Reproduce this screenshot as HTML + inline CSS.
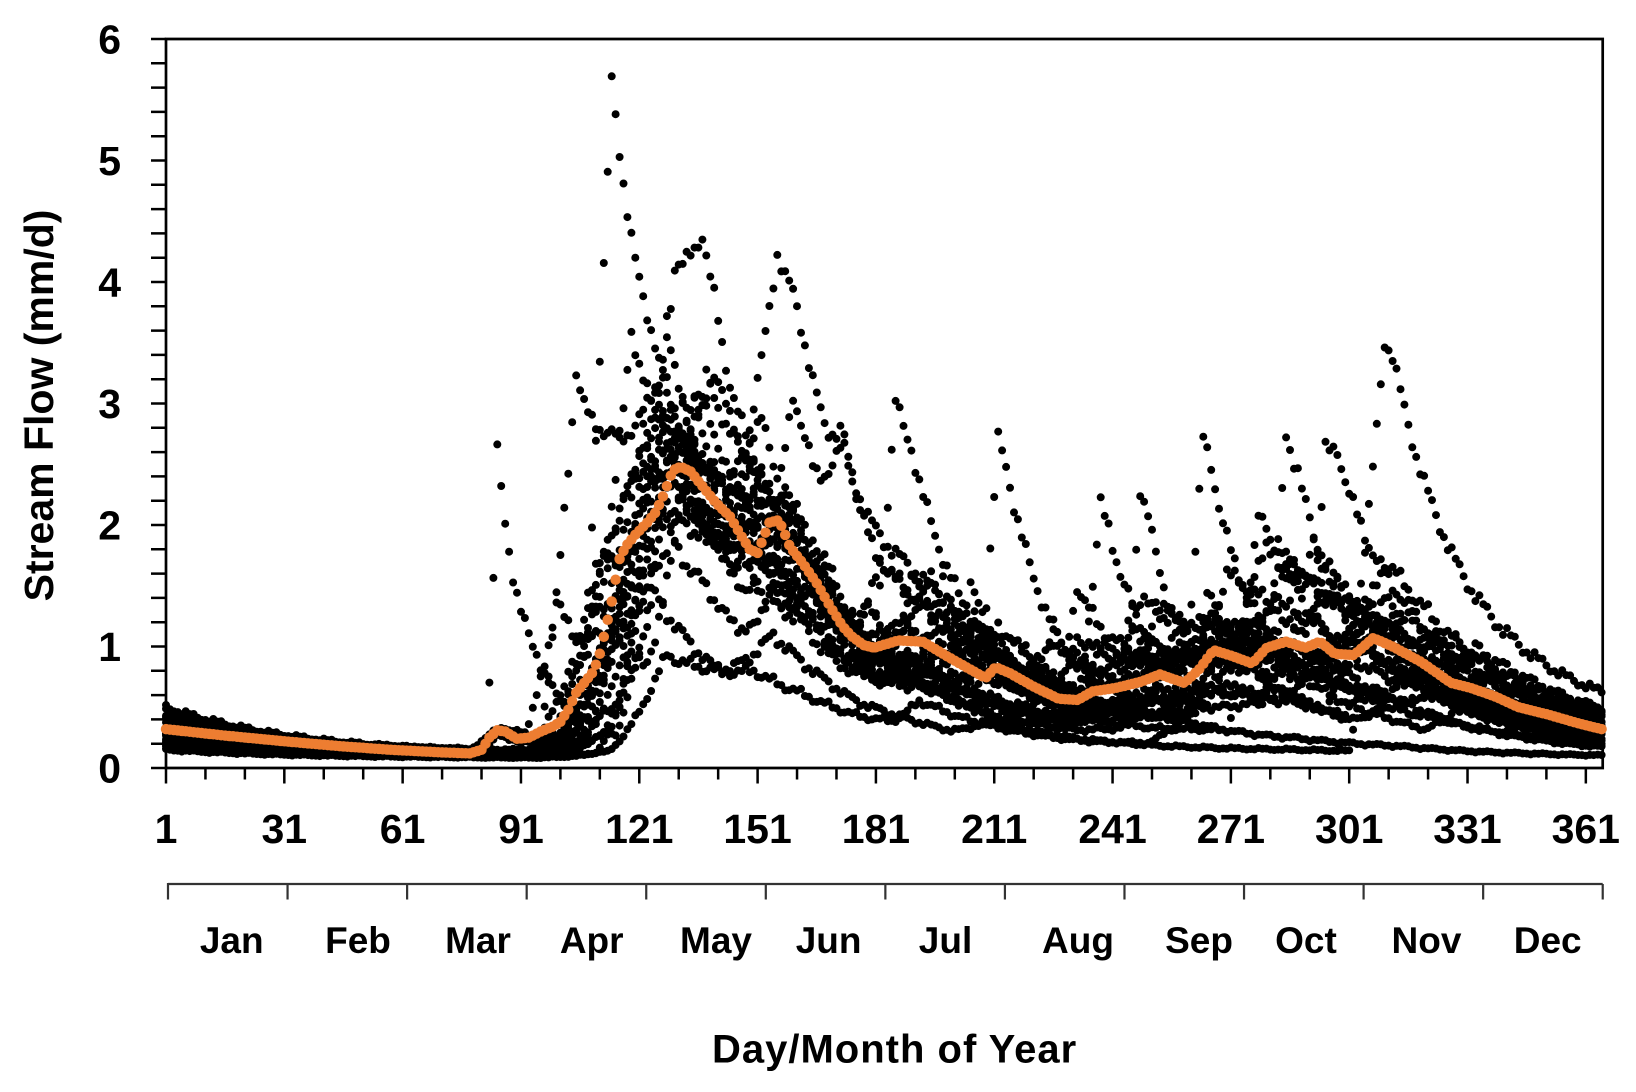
<!DOCTYPE html>
<html><head><meta charset="utf-8">
<style>
html,body{margin:0;padding:0;background:#fff;}
svg{display:block;}
text{font-family:"Liberation Sans",Arial,sans-serif;font-weight:bold;fill:#000;}
</style></head><body>
<svg id="s" width="1636" height="1092" viewBox="0 0 1636 1092" xmlns="http://www.w3.org/2000/svg">
<rect width="1636" height="1092" fill="#fff"/>
<path d="M166 39H1602.7V768H166Z" fill="none" stroke="#000" stroke-width="2.7"/>
<path stroke="#000" stroke-width="2.5" fill="none" d="M151 768H166M151 743.7H166M151 719.4H166M151 695.1H166M151 670.8H166M151 646.5H166M151 622.2H166M151 597.9H166M151 573.6H166M151 549.3H166M151 525H166M151 500.7H166M151 476.4H166M151 452.1H166M151 427.8H166M151 403.5H166M151 379.2H166M151 354.9H166M151 330.6H166M151 306.3H166M151 282H166M151 257.7H166M151 233.4H166M151 209.1H166M151 184.8H166M151 160.5H166M151 136.2H166M151 111.9H166M151 87.6H166M151 63.3H166M151 39H166"/>
<path stroke="#000" stroke-width="2.5" fill="none" d="M166 768V783.5M205.44 768V779.5M244.88 768V779.5M284.32 768V783.5M323.76 768V779.5M363.2 768V779.5M402.64 768V783.5M442.08 768V779.5M481.52 768V779.5M520.96 768V783.5M560.4 768V779.5M599.84 768V779.5M639.28 768V783.5M678.72 768V779.5M718.16 768V779.5M757.6 768V783.5M797.04 768V779.5M836.48 768V779.5M875.92 768V783.5M915.36 768V779.5M954.8 768V779.5M994.24 768V783.5M1033.68 768V779.5M1073.12 768V779.5M1112.56 768V783.5M1152 768V779.5M1191.44 768V779.5M1230.88 768V783.5M1270.32 768V779.5M1309.76 768V779.5M1349.2 768V783.5M1388.64 768V779.5M1428.08 768V779.5M1467.52 768V783.5M1506.96 768V779.5M1546.4 768V779.5M1585.84 768V783.5"/>
<g font-size="41" text-anchor="end">
<text x="121" y="782.5">0</text>
<text x="121" y="661">1</text>
<text x="121" y="539.5">2</text>
<text x="121" y="418">3</text>
<text x="121" y="296.5">4</text>
<text x="121" y="175">5</text>
<text x="121" y="53.5">6</text>
</g>
<g font-size="41" text-anchor="middle">
<text x="166" y="843">1</text>
<text x="284.3" y="843">31</text>
<text x="402.6" y="843">61</text>
<text x="521" y="843">91</text>
<text x="639.3" y="843">121</text>
<text x="757.6" y="843">151</text>
<text x="875.9" y="843">181</text>
<text x="994.2" y="843">211</text>
<text x="1112.6" y="843">241</text>
<text x="1230.9" y="843">271</text>
<text x="1349.2" y="843">301</text>
<text x="1467.5" y="843">331</text>
<text x="1585.8" y="843">361</text>
</g>
<path stroke="#333" stroke-width="2.2" fill="none" d="M168 884H1602.7M168 883V899.5M287.56 884V899.5M407.12 884V899.5M526.68 884V899.5M646.24 884V899.5M765.8 884V899.5M885.36 884V899.5M1004.92 884V899.5M1124.48 884V899.5M1244.04 884V899.5M1363.6 884V899.5M1483.16 884V899.5M1602.72 884V899.5"/>
<g font-size="37" text-anchor="middle" style="fill:#0c0c16">
<text x="231.7" y="953">Jan</text>
<text x="358" y="953">Feb</text>
<text x="478" y="953">Mar</text>
<text x="591.7" y="953">Apr</text>
<text x="716" y="953">May</text>
<text x="828.6" y="953">Jun</text>
<text x="945.5" y="953">Jul</text>
<text x="1078" y="953">Aug</text>
<text x="1199" y="953">Sep</text>
<text x="1306" y="953">Oct</text>
<text x="1426.5" y="953">Nov</text>
<text x="1547.7" y="953">Dec</text>
</g>
<text x="894.6" y="1062.7" font-size="40" letter-spacing="1" text-anchor="middle">Day/Month of Year</text>
<text transform="translate(53,405.5) rotate(-90)" font-size="41" text-anchor="middle">Stream Flow (mm/d)</text>
<g id="data"></g>
</svg>
<script>
(function(){
var X=function(d){return 166+(d-1)*3.944;}, Y=function(v){return 768-v*121.5;};
var S=[
[.47,[[80,85,.15,20],[106,114,4.6,13],[98,125,1.0,45],[120,140,.6,70],[176,186,.5,12],[255,264,.6,20],[298,306,.35,45]]],
[.40,[[92,110,1.0,30],[117,130,2.5,30],[127,137,.8,6],[110,140,.8,70],[205,212,.5,14],[278,285,.5,25],[318,328,.3,55]]],
[.33,[[78,84,.15,25],[98,122,2.0,25],[143,156,2.2,18],[135,160,.8,45],[120,150,.7,70],[168,172,.4,10],[240,248,.6,18],[290,296,.5,30]]],
[.30,[[100,112,1.5,20],[112,119,1.8,9],[110,130,1.5,45],[125,150,.6,70],[196,205,.5,15],[262,267,.8,12],[305,312,.4,45]]],
[.28,[[95,105,3.0,12],[105,125,2.0,30],[130,140,1.0,20],[120,145,.7,70],[185,190,.6,15],[230,238,.5,14],[300,310,.6,40]]],
[.26,[[82,85,2.5,7],[84,95,.25,25],[110,128,2.2,25],[140,150,1.0,20],[120,150,.5,70],[200,206,.8,15],[270,275,.9,20],[320,330,.3,50]]],
[.50,[[80,86,.2,20],[105,128,2.3,25],[150,158,.8,15],[125,150,.6,70],[200,210,.5,20],[260,270,.4,20],[300,310,2.2,14],[300,312,0.9,60]]],
[.20,[[105,120,1.0,30],[120,138,2.2,25],[130,150,.6,70],[180,186,1.8,10],[180,190,.5,30],[250,256,.5,20],[290,300,.4,40]]],
[.24,[[110,130,2.2,25],[150,160,1.5,20],[140,160,.6,70],[165,173,1.0,10],[215,225,.5,20],[278,283,.4,30]]],
[.22,[[108,127,2.6,22],[145,152,1.0,15],[130,150,.5,70],[206,212,2.0,11],[206,214,.4,25],[265,272,.5,25],[315,325,.3,50]]],
[.18,[[112,130,2.4,25],[150,158,.9,18],[130,150,.6,70],[231,238,1.6,10],[231,240,.3,30],[283,290,.5,20]]],
[.16,[[115,132,2.8,20],[160,165,.8,15],[130,150,.5,70],[243,248,1.7,8],[243,250,.4,25],[295,300,.7,25]]],
[.35,[[78,84,.15,25],[100,118,1.1,22],[118,132,2.0,20],[125,150,.6,70],[170,178,.6,15],[258,264,1.9,9],[258,266,.5,30],[310,318,.4,40]]],
[.30,[[108,125,2.8,18],[135,145,.8,20],[125,150,.6,70],[190,200,.7,20],[279,285,1.9,10],[279,288,.5,35]]],
[.42,[[78,84,.15,25],[104,126,2.3,25],[140,150,.6,25],[125,150,.6,70],[220,226,.7,18],[290,295,1.4,10],[288,298,1.0,45]]],
[.15,[[113,128,.75,25],[120,150,.4,60],[185,192,.2,20],[250,258,.2,20]]],
[.17,[[110,125,1.3,25],[140,155,.6,30],[200,210,.15,30],[301,303,.45,40]]],
[.38,[[102,120,1.8,20],[120,135,1.6,30],[125,150,.6,70],[175,182,.8,15],[226,232,1.0,12],[270,280,.8,20],[325,333,.4,40]]],
[.32,[[90,100,1.2,15],[110,122,2.0,18],[150,158,1.2,15],[125,150,.5,70],[195,205,1.0,15],[245,252,.8,18],[285,292,1.0,18],[330,335,.3,40]]],
[.21,[[100,115,.9,20],[122,135,2.4,20],[130,150,.5,70],[160,168,.7,15],[210,215,.7,20],[260,265,1.1,15],[300,305,.8,30]]],
[.19,[[115,128,2.8,18],[125,145,.7,30],[130,150,.5,70],[190,198,.9,15],[240,245,.7,20],[272,278,1.3,14],[315,322,.5,40]]],
[.44,[[96,108,.8,20],[118,128,3.0,15],[135,152,1.5,18],[130,150,.5,70],[180,195,.8,20],[225,232,.6,20],[262,270,.7,20],[300,310,.8,35]]]
];
var C=[1.2,1.9,1.6,0.4,1.4,0.3,0.9,0.8,2.0,0.7,0.6,0.5,0.6,0.7,0.8,0.15,0.05,1.7,1.3,0.25,1.1,1.5];
var OP=[[1,0.32],[15,0.27],[31,0.22],[45,0.18],[58,0.15],[70,0.13],[78,0.12],[81,0.15],[83,0.25],[85,0.31],[87,0.30],[90,0.24],[93,0.25],[96,0.30],[99,0.34],[101,0.38],[103,0.48],[105,0.62],[107,0.70],[109,0.78],[110,0.85],[111,0.94],[112,1.08],[113,1.22],[114,1.37],[115,1.55],[116,1.72],[117.5,1.82],[120,1.92],[123,2.02],[125,2.10],[126.7,2.21],[128,2.32],[129.5,2.45],[131.5,2.48],[134,2.44],[137,2.32],[140.5,2.18],[144,2.07],[146.5,1.93],[149,1.80],[151,1.77],[152.3,1.88],[154,2.02],[156.3,2.04],[157.5,1.96],[159.2,1.82],[162.6,1.68],[166,1.52],[169.4,1.33],[172.7,1.16],[175,1.08],[178,1.01],[180.6,0.99],[186.7,1.05],[192.9,1.04],[199,0.92],[205,0.81],[208.8,0.74],[211.3,0.83],[215,0.78],[221,0.67],[227.3,0.57],[232.2,0.56],[235.9,0.63],[242,0.66],[248.2,0.71],[253,0.77],[259.2,0.70],[262.9,0.81],[266.6,0.97],[271.5,0.92],[276.4,0.86],[280.1,0.99],[285,1.04],[289.9,0.99],[293.6,1.04],[297.3,0.94],[302.2,0.93],[307.1,1.07],[312,1.0],[319.4,0.87],[326.8,0.70],[331.7,0.66],[337.9,0.59],[344,0.50],[351.4,0.44],[358.8,0.37],[365,0.32]];
function interp(P,d){for(var j=1;j<P.length;j++){if(d<=P[j][0]){var a=P[j-1],b=P[j];return a[1]+(b[1]-a[1])*(d-a[0])/(b[0]-a[0]);}}return P[P.length-1][1];}
var N=S.length,base=[],ev=[],i,d,k;
for(i=0;i<N;i++){var q0=S[i][0],E=S[i][1],w=0.08+0.05*((i*7)%5)/4;base[i]=[];ev[i]=[];
 for(d=1;d<=365;d++){var b=w+(q0-w)*Math.exp(-(d-1)/35),e=0;
  for(k=0;k<E.length;k++){var s=E[k][0],p=E[k][1],a=E[k][2],kk=E[k][3];
   if(d>=s&&d<=p)e+=a*Math.pow((d-s)/(p-s),1.3);else if(d>p)e+=a*Math.exp(-(d-p)/kk);}
  base[i][d]=b;ev[i][d]=e;}}
var mc=0;for(i=0;i<N;i++)mc+=C[i];mc/=N;
var R=[],ME=[],F=[],A=[];
for(d=1;d<=365;d++){var mb=0,me=0;for(i=0;i<N;i++){mb+=base[i][d];me+=ev[i][d];}mb/=N;me/=N;
 R[d]=interp(OP,d)-(mb+me);ME[d]=me;}
for(d=1;d<=365;d++){var sm=0,c=0;for(var j=d-8;j<=d+8;j++){if(j>=1&&j<=365){sm+=R[j];c++;}}
 var rs=sm/c,t=Math.min(1,Math.max(0,(d-95)/15));
 A[d]=t*Math.max(rs,0)/mc;
 F[d]=(rs<0&&ME[d]>0.05)?1+t*Math.max(-0.4,rs/ME[d]):1;}
var pd='';
for(i=0;i<N;i++){for(d=1;d<=365;d++){var v=base[i][d]+ev[i][d]*F[d]+A[d]*C[i];
 v+=Math.min(v,1.2)*(0.035*Math.sin(d*0.9+i*1.3)+0.025*Math.sin(d*2.7+i*0.7));
 if(v>5.97)v=5.97;if(v<0.03)v=0.03;
 pd+='M'+X(d).toFixed(1)+' '+Y(v).toFixed(1)+'h0';}}
var od='';
for(d=1;d<=365;d++){od+='M'+X(d).toFixed(1)+' '+Y(interp(OP,d)).toFixed(1)+'h0';}
var NS='http://www.w3.org/2000/svg',g=document.getElementById('data');
var p1=document.createElementNS(NS,'path');
p1.setAttribute('d',pd);p1.setAttribute('fill','none');p1.setAttribute('stroke','#000');
p1.setAttribute('stroke-width','8');p1.setAttribute('stroke-linecap','round');g.appendChild(p1);
var p2=document.createElementNS(NS,'path');
p2.setAttribute('d',od);p2.setAttribute('fill','none');p2.setAttribute('stroke','#ED7D31');
p2.setAttribute('stroke-width','10.5');p2.setAttribute('stroke-linecap','round');g.appendChild(p2);
})();
</script>
</body></html>
